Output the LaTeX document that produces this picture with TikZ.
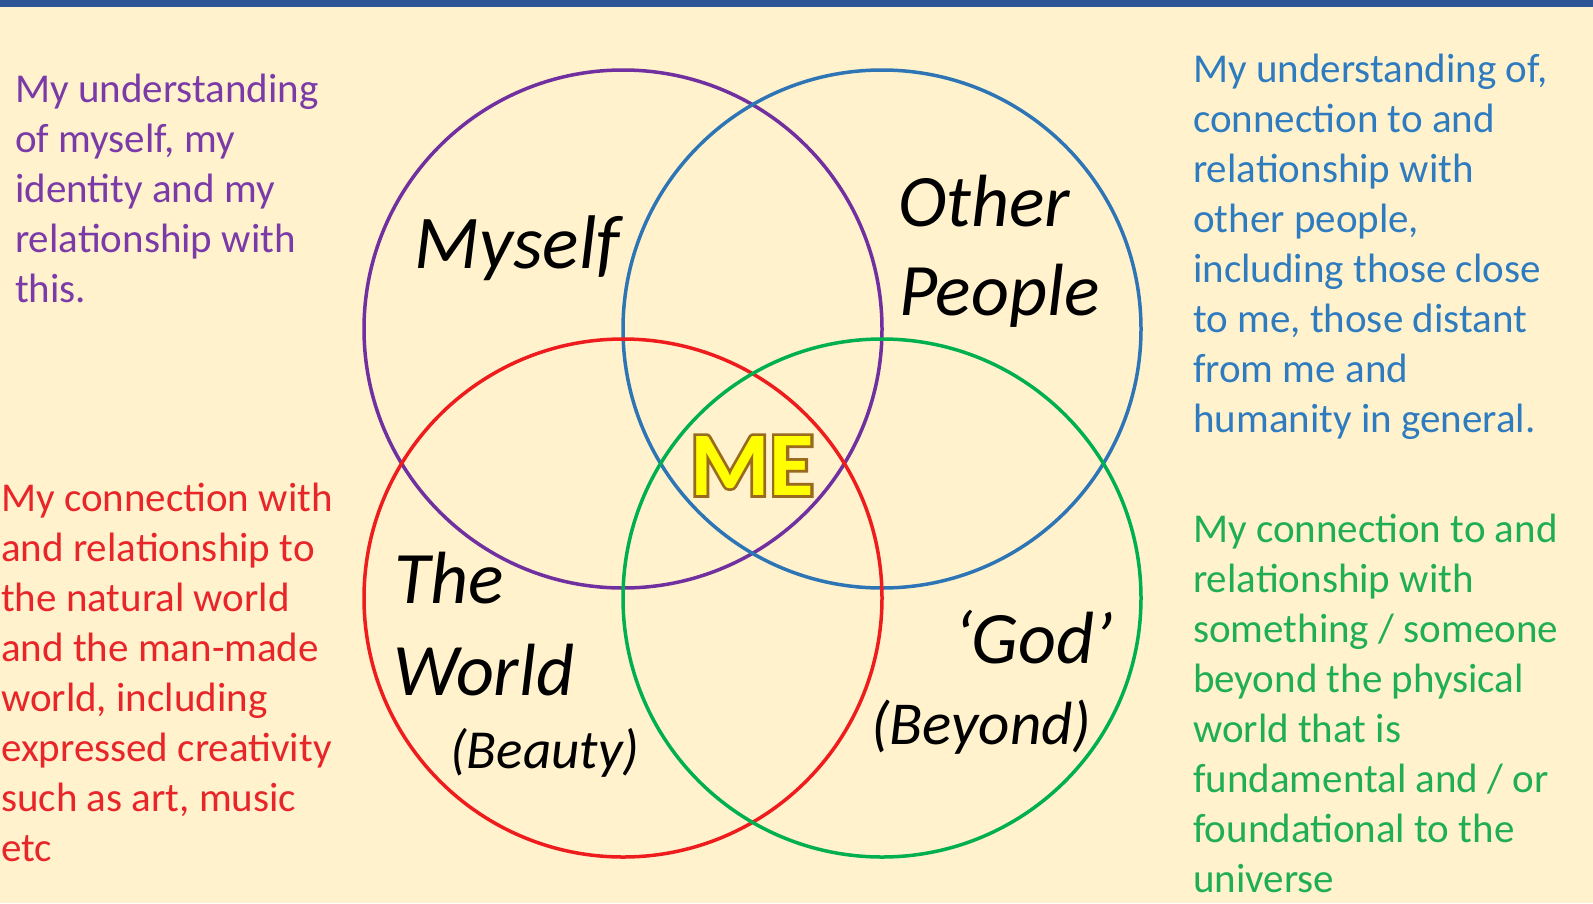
\documentclass[tikz,border=0pt]{standalone}
\usepackage{fontspec}
\setmainfont{Carlito}
\newfontfamily\meoutline[FakeBold=6]{Carlito}
\definecolor{bg}{HTML}{FFF2CC}
\definecolor{bar}{HTML}{2F5597}
\definecolor{cpurple}{HTML}{7030A0}
\definecolor{cblue}{HTML}{2E75B6}
\definecolor{cred}{HTML}{EE1C1C}
\definecolor{cgreen}{HTML}{00B050}
\definecolor{tpurple}{HTML}{7A3AA8}
\definecolor{tblue}{HTML}{2E7BC0}
\definecolor{tred}{HTML}{E8262A}
\definecolor{tgreen}{HTML}{1FAE55}
\definecolor{mebrown}{HTML}{9A6A1E}
\definecolor{meyellow}{HTML}{FFFF00}
\newcommand\oltext[1]{{\color{mebrown}\meoutline\bfseries\rlap{#1}}{\color{meyellow}#1}}
\tikzset{
  desc/.style={anchor=base west, inner sep=0pt, font=\fontsize{41}{50}\selectfont},
  lab/.style={anchor=base west, inner sep=0pt, font=\itshape\fontsize{74}{80}\selectfont, text=black},
  sublab/.style={lab, font=\itshape\fontsize{55}{60}\selectfont},
  ring/.style={line width=3.5pt},
  metext/.style={anchor=base, inner sep=0pt, font=\bfseries\fontsize{91}{95}\selectfont},
}
\begin{document}
\begin{tikzpicture}[x=1pt,y=-1pt]
\fill[bg] (0,0) rectangle (1593,903);
\useasboundingbox (0,0) rectangle (1593,903);
\fill[bar] (0,0) rectangle (1593,7);
% circles
\draw[ring, cpurple] (623,329) circle[radius=259];
\draw[ring, cblue] (882,329) circle[radius=259];
\draw[ring, cred] (623,598) circle[radius=259];
\draw[ring, cgreen] (882,598) circle[radius=259];
% descriptions
\foreach \t [count=\i from 0] in {My understanding,{of myself, my},identity and my,relationship with,this.}
  \node[desc, text=tpurple] (pu\i) at (15,{102+50*\i}) {\t};
\foreach \t [count=\i from 0] in {{My understanding of,},connection to and,relationship with,{other people,},including those close,{to me, those distant},from me and,humanity in general.}
  \node[desc, text=tblue] (bl\i) at (1193,{82+50*\i}) {\t};
\foreach \t [count=\i from 0] in {My connection with,and relationship to,the natural world,and the man-made,{world, including},expressed creativity,{such as art, music},etc}
  \node[desc, text=tred] (rd\i) at (1,{511+50*\i}) {\t};
\foreach \t [count=\i from 0] in {My connection to and,relationship with,something / someone,beyond the physical,world that is,fundamental and / or,foundational to the,universe}
  \node[desc, text=tgreen] (gr\i) at (1193,{542+50*\i}) {\t};
% circle labels
\node[lab, font=\itshape\fontsize{76}{80}\selectfont] (myself) at (414,268) {Myself};
\node[lab] (other) at (898,226) {Other};
\node[lab] (people) at (899,315) {People};
\node[lab] (the) at (394,603) {The};
\node[lab] (world) at (393,695) {World};
\node[sublab] (beauty) at (450,768) {(Beauty)};
\node[lab] (god) at (954,663) {‘God’};
\node[sublab, font=\itshape\fontsize{61}{64}\selectfont] (beyond) at (871,744) {(Beyond)};
% ME
\node[metext] (me) at (752,495) {\oltext{ME}};
\end{tikzpicture}
\end{document}
